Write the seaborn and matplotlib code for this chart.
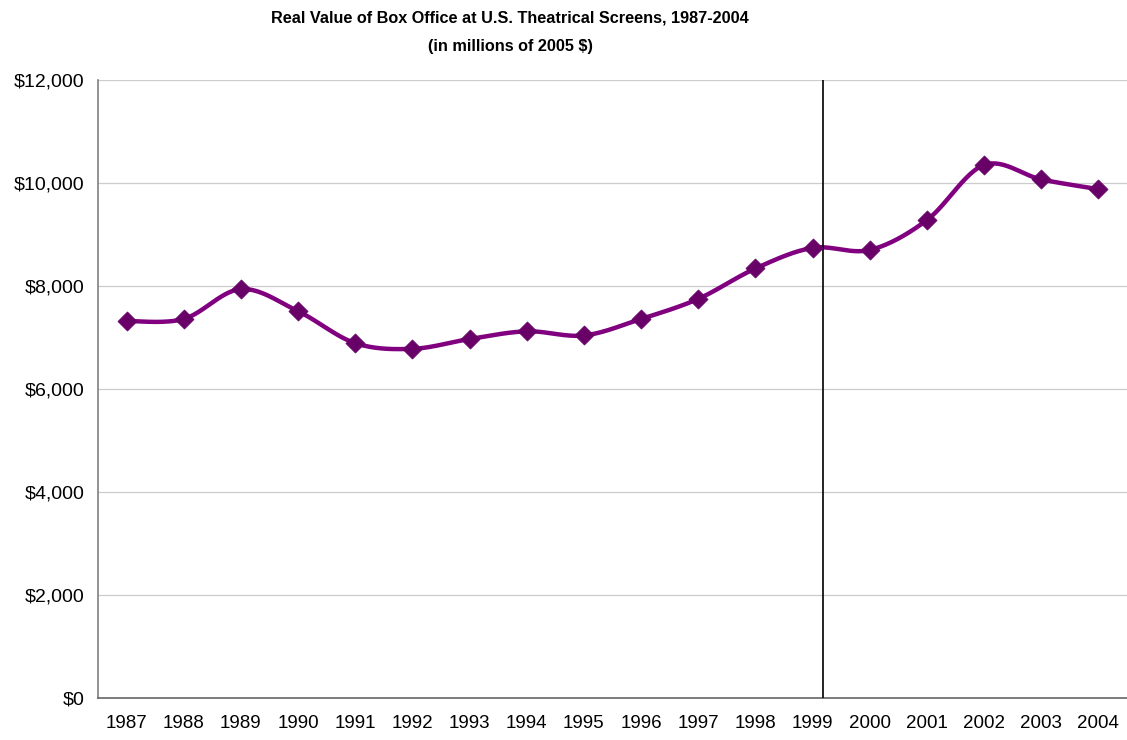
import numpy as np
import pandas as pd
import matplotlib
matplotlib.use("Agg")
import matplotlib.pyplot as plt
import seaborn as sns
from matplotlib.ticker import FuncFormatter, FixedLocator

years = ["1987", "1988", "1989", "1990", "1991", "1992", "1993", "1994", "1995",
         "1996", "1997", "1998", "1999", "2000", "2001", "2002", "2003", "2004"]
box_office = [7320, 7360, 7940, 7510, 6890, 6780, 6970, 7120, 7040,
              7360, 7750, 8340, 8740, 8700, 9280, 10350, 10070, 9880]
y_ticks = [0, 2000, 4000, 6000, 8000, 10000, 12000]
title_lines = ["Real Value of Box Office at U.S. Theatrical Screens, 1987-2004",
               "(in millions of 2005 $)"]

sns.set_style("white")
plt.rcParams["font.family"] = ["Liberation Sans", "DejaVu Sans"]
plt.rcParams["text.color"] = "black"
plt.rcParams["xtick.color"] = "black"
plt.rcParams["ytick.color"] = "black"

fig = plt.figure(figsize=(11.27, 7.40), dpi=100)
ax = fig.add_axes([98 / 1127, 1 - 698 / 740, 1029 / 1127, 618 / 740])

df = pd.DataFrame({"idx": np.arange(len(years)), "value": box_office})

# Excel-style smoothed line (cubic Bezier through the data points)
def smooth_curve(xs, ys, n=30):
    xs = np.asarray(xs, float)
    ys = np.asarray(ys, float)
    px = np.concatenate([[xs[0]], xs, [xs[-1]]])
    py = np.concatenate([[ys[0]], ys, [ys[-1]]])
    outx, outy = [], []
    t = np.linspace(0, 1, n)
    for i in range(1, len(px) - 2):
        p0 = np.array([px[i], py[i]])
        p3 = np.array([px[i + 1], py[i + 1]])
        c1 = p0 + (np.array([px[i + 1], py[i + 1]]) - np.array([px[i - 1], py[i - 1]])) / 6
        c2 = p3 - (np.array([px[i + 2], py[i + 2]]) - np.array([px[i], py[i]])) / 6
        b = ((1 - t) ** 3)[:, None] * p0 + (3 * (1 - t) ** 2 * t)[:, None] * c1 \
            + (3 * (1 - t) * t ** 2)[:, None] * c2 + (t ** 3)[:, None] * p3
        outx.extend(b[:, 0]); outy.extend(b[:, 1])
    return np.array(outx), np.array(outy)

cx, cy = smooth_curve(df["idx"], df["value"])
curve = pd.DataFrame({"x": cx, "y": cy})
sns.lineplot(data=curve, x="x", y="y", ax=ax, color="#800080", linewidth=3.2,
             sort=False, estimator=None)
sns.scatterplot(data=df, x="idx", y="value", ax=ax, marker="D", s=95,
                color="#680068", edgecolor="#680068", linewidth=0.5, zorder=5)

ax.set_xlim(-0.5, len(years) - 0.5)
ax.set_ylim(0, 12000)
ax.set_xlabel("")
ax.set_ylabel("")

ax.axvline(12.19, color="black", linewidth=1.2, zorder=4)

ax.yaxis.set_major_locator(FixedLocator(y_ticks))
ax.yaxis.set_major_formatter(FuncFormatter(lambda v, p: f"${int(v):,}"))
ax.grid(axis="y", color="#cccccc", linewidth=0.9)
ax.set_axisbelow(True)

ax.set_xticks(np.arange(len(years)))
ax.set_xticklabels(years)
ax.set_xticks(np.arange(len(years) + 1) - 0.5, minor=True)
ax.tick_params(axis="x", which="major", length=0, labelsize=13.5, pad=12,
               labelcolor="black")
ax.tick_params(axis="x", which="minor", length=6, width=1, color="#555555", direction="out")
ax.tick_params(axis="y", which="major", length=6, width=1, color="#555555",
               direction="out", labelsize=14, pad=4, labelcolor="black")

for side in ["top", "right"]:
    ax.spines[side].set_visible(False)
ax.spines["left"].set_color("#808080")
ax.spines["left"].set_linewidth(1.2)
ax.spines["bottom"].set_color("#666666")
ax.spines["bottom"].set_linewidth(1.2)

title_x = 510 / 1127
fig.text(title_x, 1 - 22.7 / 740, title_lines[0], ha="center", va="baseline",
         fontsize=11.7, fontweight="bold", color="black")
fig.text(title_x, 1 - 51 / 740, title_lines[1], ha="center", va="baseline",
         fontsize=11.7, fontweight="bold", color="black")

fig.savefig("out.png", dpi=100)
